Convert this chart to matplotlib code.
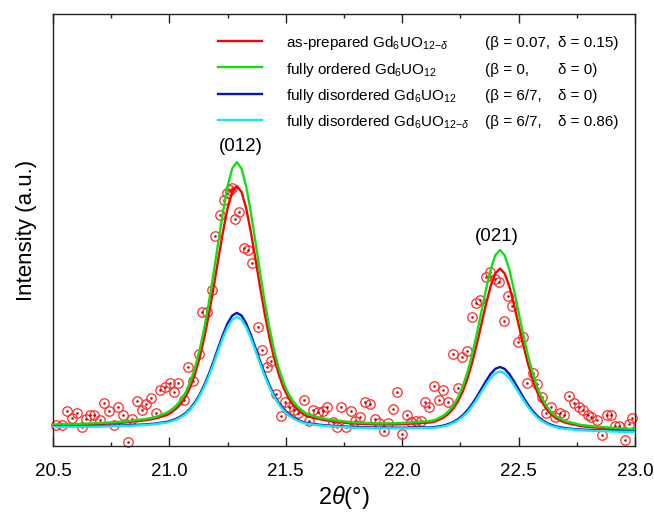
"""XRD peak fit plot for Gd6UO12 superlattice peaks."""

import matplotlib
matplotlib.use('Agg')
from matplotlib import pyplot as plt
from matplotlib.ticker import MultipleLocator, FormatStrFormatter

plt.rcParams['font.family'] = ['Liberation Sans', 'DejaVu Sans']
plt.rcParams['mathtext.fontset'] = 'custom'
plt.rcParams['mathtext.rm'] = 'Liberation Sans'
plt.rcParams['mathtext.it'] = 'Liberation Sans:italic'

# Calculated profiles (2theta in degrees, intensity in arbitrary units)
curve_x = [20.50, 20.60, 20.70, 20.80, 20.90, 20.94,
           20.99, 21.01, 21.03, 21.05, 21.07, 21.09, 21.11, 21.13, 21.15,
           21.17, 21.19, 21.21, 21.23, 21.25, 21.27, 21.29, 21.31, 21.33,
           21.35, 21.37, 21.39, 21.41, 21.43, 21.45, 21.47, 21.49, 21.51,
           21.53, 21.55, 21.57, 21.59,
           21.64, 21.69, 21.79, 21.89, 21.97, 22.02, 22.07,
           22.12, 22.14, 22.16, 22.18, 22.20, 22.22, 22.24, 22.26, 22.28,
           22.30, 22.32, 22.34, 22.36, 22.38, 22.40, 22.42, 22.44, 22.46,
           22.48, 22.50, 22.52, 22.54, 22.56, 22.58, 22.60, 22.62, 22.64,
           22.66, 22.68, 22.70, 22.72,
           22.77, 22.82, 22.92, 23.00]

as_prepared = [20.8, 21.3, 22.0, 23.3, 25.8, 27.6,
               31.0, 33.9, 37.5, 42.6, 49.6, 59.2, 72.1, 88.3, 108.5, 132.0,
               158.7, 186.9, 214.0, 237.8, 254.1, 259.8, 254.0, 237.6, 213.8,
               186.6, 158.3, 131.5, 107.9, 87.7, 71.4, 58.4, 48.7, 41.6, 36.5,
               32.8, 29.8,
               27.1, 24.9, 22.5, 21.5, 21.6, 22.1, 22.8,
               23.5, 24.5, 26.4, 28.8, 32.5, 37.7, 44.9, 54.6, 67.3, 83.0,
               101.5, 121.6, 141.9, 159.9, 172.7, 177.4, 172.6, 159.8, 141.6,
               121.3, 101.1, 82.5, 66.8, 53.9, 44.2, 36.9, 31.6, 27.9, 25.3,
               23.4, 22.3,
               19.8, 18.6, 17.0, 16.2]

ordered = [21.5, 22.0, 22.9, 24.3, 27.0, 29.0,
           33.4, 36.5, 40.5, 46.1, 53.7, 64.3, 78.3, 96.1, 118.2, 143.9,
           173.2, 203.9, 233.7, 259.8, 277.5, 283.9, 277.4, 259.6, 233.5,
           203.6, 172.8, 143.4, 117.6, 95.5, 77.6, 63.5, 52.8, 45.1, 39.5,
           35.4, 32.2,
           28.6, 26.3, 23.6, 22.6, 22.7, 23.3, 24.1,
           24.9, 26.0, 28.2, 30.8, 34.9, 40.7, 48.7, 59.5, 73.6, 91.1,
           111.6, 134.0, 156.5, 176.6, 190.8, 196.0, 190.7, 176.5, 156.2,
           133.7, 111.2, 90.6, 73.1, 58.8, 48.0, 39.9, 34.0, 29.9, 27.1,
           24.9, 23.7,
           21.0, 19.7, 17.9, 16.9]

disordered = [19.6, 19.7, 20.0, 20.5, 21.6, 22.4,
              24.2, 25.6, 27.3, 29.7, 33.0, 37.6, 43.8, 51.4, 61.1, 72.2,
              84.9, 98.4, 111.3, 122.7, 130.4, 133.1, 130.4, 122.5, 111.1,
              98.0, 84.5, 71.8, 60.5, 50.8, 43.0, 36.8, 32.2, 28.7, 26.3,
              24.4, 23.0,
              21.4, 20.3, 19.0, 18.4, 18.3, 18.3, 18.6,
              18.5, 19.0, 19.7, 20.6, 22.1, 24.0, 26.9, 30.7, 35.7, 41.9,
              49.1, 57.1, 65.0, 72.2, 77.2, 79.0, 77.1, 72.0, 64.8, 56.8,
              48.7, 41.4, 35.1, 30.1, 26.2, 23.2, 21.2, 19.6, 18.7, 17.9,
              17.3,
              16.4, 15.9, 15.1, 14.6]

disordered_red = [19.1, 19.2, 19.4, 19.9, 21.0, 21.8,
                  23.5, 24.7, 26.4, 28.8, 32.0, 36.5, 42.3, 49.9, 59.2, 70.0,
                  82.3, 95.4, 108.0, 118.9, 126.4, 129.1, 126.3, 118.7, 107.8,
                  95.1, 81.9, 69.5, 58.6, 49.3, 41.6, 35.7, 31.1, 27.8, 25.4,
                  23.6, 22.3,
                  20.7, 19.7, 18.4, 17.7, 17.7, 17.7, 17.9,
                  17.9, 18.2, 18.9, 19.7, 21.1, 23.0, 25.6, 29.2, 33.8, 39.7,
                  46.5, 53.9, 61.4, 68.0, 72.8, 74.5, 72.7, 67.9, 61.1, 53.6,
                  46.1, 39.2, 33.3, 28.5, 24.9, 22.2, 20.2, 18.8, 17.8, 17.1,
                  16.7,
                  15.7, 15.2, 14.4, 14.1]

# Measured points
obs_x = [20.513, 20.539, 20.560, 20.582, 20.603, 20.624, 20.642, 20.659,
         20.676, 20.702, 20.719, 20.740, 20.762, 20.779, 20.800, 20.822,
         20.839, 20.861, 20.882, 20.899, 20.921, 20.942, 20.959, 20.981,
         21.002, 21.019, 21.036, 21.062, 21.079, 21.101, 21.127,
         21.139, 21.161, 21.182, 21.195, 21.217, 21.234, 21.247, 21.260,
         21.268, 21.281, 21.298, 21.320, 21.337, 21.354, 21.380, 21.397,
         21.418, 21.436, 21.457, 21.479, 21.496, 21.513, 21.534, 21.552,
         21.577, 21.599, 21.616, 21.637, 21.659, 21.676, 21.702, 21.719,
         21.736, 21.758, 21.779, 21.796, 21.818, 21.839, 21.861, 21.882,
         21.899, 21.921, 21.938, 21.959, 21.976, 21.998, 22.019, 22.036,
         22.058, 22.079, 22.097, 22.114, 22.135, 22.157, 22.174, 22.195,
         22.217, 22.238, 22.255, 22.277,
         22.298, 22.315, 22.333, 22.358, 22.376, 22.397, 22.414, 22.436,
         22.453, 22.470, 22.496, 22.517, 22.534, 22.560, 22.577, 22.599,
         22.616, 22.637, 22.655, 22.676, 22.697, 22.715, 22.736, 22.758,
         22.775, 22.796, 22.813, 22.835, 22.856, 22.878, 22.895, 22.912,
         22.933, 22.955, 22.972, 22.989]

obs_y = [21, 21, 35, 28, 33, 19, 27, 31, 31, 26, 43, 35, 21, 39, 31, 4,
         27, 45, 36, 42, 48, 33, 56, 59, 63, 54, 63, 46, 79, 65, 92,
         134, 134, 156, 210, 231, 246, 253, 256, 258, 227, 234, 198, 196,
         183, 119, 96, 79, 85, 52, 30, 44, 39, 36, 33,
         46, 25, 36, 34, 35, 39, 24, 19, 39, 19, 35, 25, 29, 44, 42, 27,
         23, 15, 23, 37, 54, 12, 31, 24, 25, 25, 44, 39, 60, 46, 56, 44,
         92, 58, 89, 95,
         129, 143, 146, 169, 174, 167, 164, 125, 150, 140, 104, 109, 63,
         73, 62, 49, 33, 39, 29, 33, 31, 50, 43, 39, 36, 31, 29, 26, 11,
         31, 31, 20, 20, 6, 22, 28]

SERIES = [
    (as_prepared, '#ff0000',
     'as-prepared Gd$_6$UO$_{12\\mathrm{-}δ}$', '(β = 0.07,', 'δ = 0.15)'),
    (ordered, '#10e010',
     'fully ordered Gd$_6$UO$_{12}$', '(β = 0,', 'δ = 0)'),
    (disordered, '#0a14b4',
     'fully disordered Gd$_6$UO$_{12}$', '(β = 6/7,', 'δ = 0)'),
    (disordered_red, '#19e6f5',
     'fully disordered Gd$_6$UO$_{12\\mathrm{-}δ}$', '(β = 6/7,', 'δ = 0.86)'),
]

PEAKS = [(21.307, 299, '(012)'), (22.408, 209, '(021)')]

fig = plt.figure(figsize=(6.54, 5.14), dpi=100)
ax = fig.add_axes([0.081, 0.1323, 0.890, 0.8405])

# Data points: open circles with a centre dot
ax.plot(obs_x, obs_y, 'o', ms=6.8, mfc='none', mec='#ff2a2a', mew=0.9,
        clip_on=False, zorder=2)
ax.plot(obs_x, obs_y, '.', ms=1.6, color='#b00000', clip_on=False, zorder=2)

for ys, color, _, _, _ in SERIES:
    ax.plot(curve_x, ys, '-', color=color, lw=1.7, zorder=3)

# Legend drawn by hand so the parameter columns line up
for i, (_, color, name, beta, delta) in enumerate(SERIES):
    y = 0.9375 - 0.0608 * i
    ax.plot([0.2835, 0.359], [y, y], color=color, lw=1.7,
            transform=ax.transAxes)
    ax.text(0.400, y - 0.015, name, transform=ax.transAxes, fontsize=11.0,
            va='baseline')
    ax.text(0.742, y - 0.015, beta, transform=ax.transAxes, fontsize=11.0,
            va='baseline')
    ax.text(0.868, y - 0.015, delta, transform=ax.transAxes, fontsize=11.0,
            va='baseline')

for px, py, label in PEAKS:
    ax.text(px, py, label, fontsize=13.5, ha='center', va='center')

ax.set_xlim(20.5, 23.0)
ax.set_ylim(0, 432)
ax.set_yticks([])
ax.xaxis.set_major_locator(MultipleLocator(0.5))
ax.xaxis.set_minor_locator(MultipleLocator(0.25))
ax.xaxis.set_major_formatter(FormatStrFormatter('%.1f'))
ax.tick_params(axis='x', which='both', direction='in', top=True,
               labelsize=13.5, color='#222222', pad=12)
ax.tick_params(axis='x', which='major', length=6.2, width=1.0)
ax.tick_params(axis='x', which='minor', length=3.2, width=1.0)
for spine in ax.spines.values():
    spine.set_linewidth(1.0)
    spine.set_color('#222222')

ax.set_xlabel('2$\\mathit{θ}$(°)', fontsize=17)
ax.set_ylabel('Intensity (a.u.)', fontsize=16)
ax.xaxis.set_label_coords(0.5, -0.088)
ax.yaxis.set_label_coords(-0.028, 0.5)

fig.savefig('out.png', dpi=100)
